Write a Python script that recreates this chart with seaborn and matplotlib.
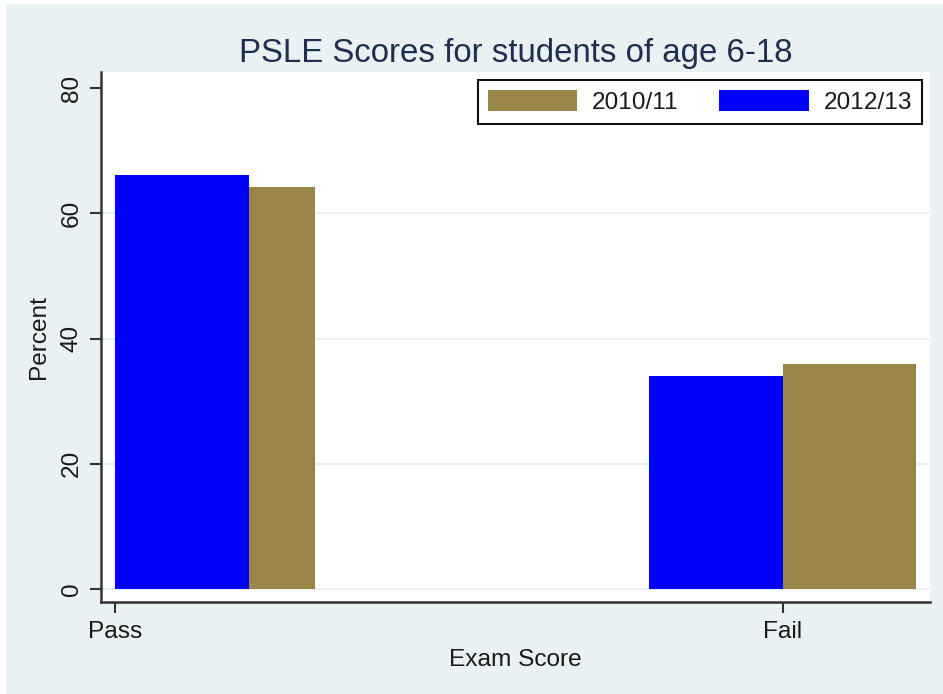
import matplotlib
matplotlib.use("Agg")
import matplotlib.pyplot as plt
from matplotlib.patches import Rectangle
import seaborn as sns
import pandas as pd

# ---- data ----
categories = ["Pass", "Fail"]
cat_positions = [1, 2]
series_2010 = [64.3, 35.9]   # 2010/11
series_2012 = [66.2, 34.0]   # 2012/13
legend_labels = ["2010/11", "2012/13"]
y_ticks = [0, 20, 40, 60, 80]

# ---- style ----
sns.set_theme(style="white")
plt.rcParams["font.family"] = ["Liberation Sans", "DejaVu Sans"]

BG = "#E9F1F3"
OLIVE = "#9A8548"
BLUE = "#0000FF"
TXT = "#1A1A1A"
TITLE = "#1E2F4F"

fig = plt.figure(figsize=(9.43, 6.94), dpi=100)
fig.patch.set_facecolor("white")
fig.add_artist(Rectangle((6 / 943, -0.01), 1.02, 1 - 4 / 694 + 0.01,
                         transform=fig.transFigure, facecolor=BG,
                         edgecolor="none", zorder=-10))

ax = fig.add_axes([101 / 943, 92 / 694, 829 / 943, 530 / 694])
ax.set_facecolor("white")

# bar geometry (style): widths and offsets relative to category ticks
bar_w = 0.2
olive_x = [p + off for p, off in zip(cat_positions, [0.2, 0.1])]   # centers
blue_x = [p + off for p, off in zip(cat_positions, [0.1, -0.1])]

df_old = pd.DataFrame({"x": olive_x, "y": series_2010})
df_new = pd.DataFrame({"x": blue_x, "y": series_2012})

sp_old = olive_x[1] - olive_x[0]
sp_new = blue_x[1] - blue_x[0]

sns.barplot(data=df_old, x="x", y="y", native_scale=True, width=bar_w / sp_old,
            color=OLIVE, saturation=1, errorbar=None, linewidth=0,
            label=legend_labels[0], ax=ax, zorder=2)
sns.barplot(data=df_new, x="x", y="y", native_scale=True, width=bar_w / sp_new,
            color=BLUE, saturation=1, errorbar=None, linewidth=0,
            label=legend_labels[1], ax=ax, zorder=3)

ax.set_xlim(0.979, 2.2206)
ax.set_ylim(-2.08, 82.6)
ax.set_xticks(cat_positions)
ax.set_xticklabels(categories)
ax.set_yticks(y_ticks)
ax.set_yticklabels([str(v) for v in y_ticks], rotation=90, va="center")

ax.grid(True, axis="y", color=BG, linewidth=1.6, zorder=0)
ax.set_axisbelow(True)
ax.get_ygridlines()[-1].set_visible(False)
ax.grid(False, axis="x")

for s in ["top", "right"]:
    ax.spines[s].set_visible(False)
for s in ["left", "bottom"]:
    ax.spines[s].set_color("#333333")
    ax.spines[s].set_linewidth(1.8)

ax.tick_params(axis="both", which="major", direction="out", length=8,
               width=1.5, color="#333333", labelsize=17.6, labelcolor=TXT,
               left=True, bottom=True)
ax.tick_params(axis="y", pad=5)
ax.tick_params(axis="x", pad=6)

ax.set_xlabel("Exam Score", fontsize=17.6, color=TXT, labelpad=4)
ax.set_ylabel("Percent", fontsize=17.6, color=TXT, labelpad=8)
ax.set_title("PSLE Scores for students of age 6-18", fontsize=23.8,
             color=TITLE, pad=7)

leg = ax.legend(loc="upper right", bbox_to_anchor=(0.990, 0.985), ncol=2,
                fontsize=17.6, frameon=True, fancybox=False, framealpha=1,
                edgecolor="#111111", handlelength=3.67, handleheight=0.98,
                handletextpad=0.6, columnspacing=1.65, borderpad=0.4,
                borderaxespad=0)
leg.get_frame().set_linewidth(1.5)
for t in leg.get_texts():
    t.set_color(TXT)

fig.savefig("out.png", dpi=100, facecolor=fig.get_facecolor())
